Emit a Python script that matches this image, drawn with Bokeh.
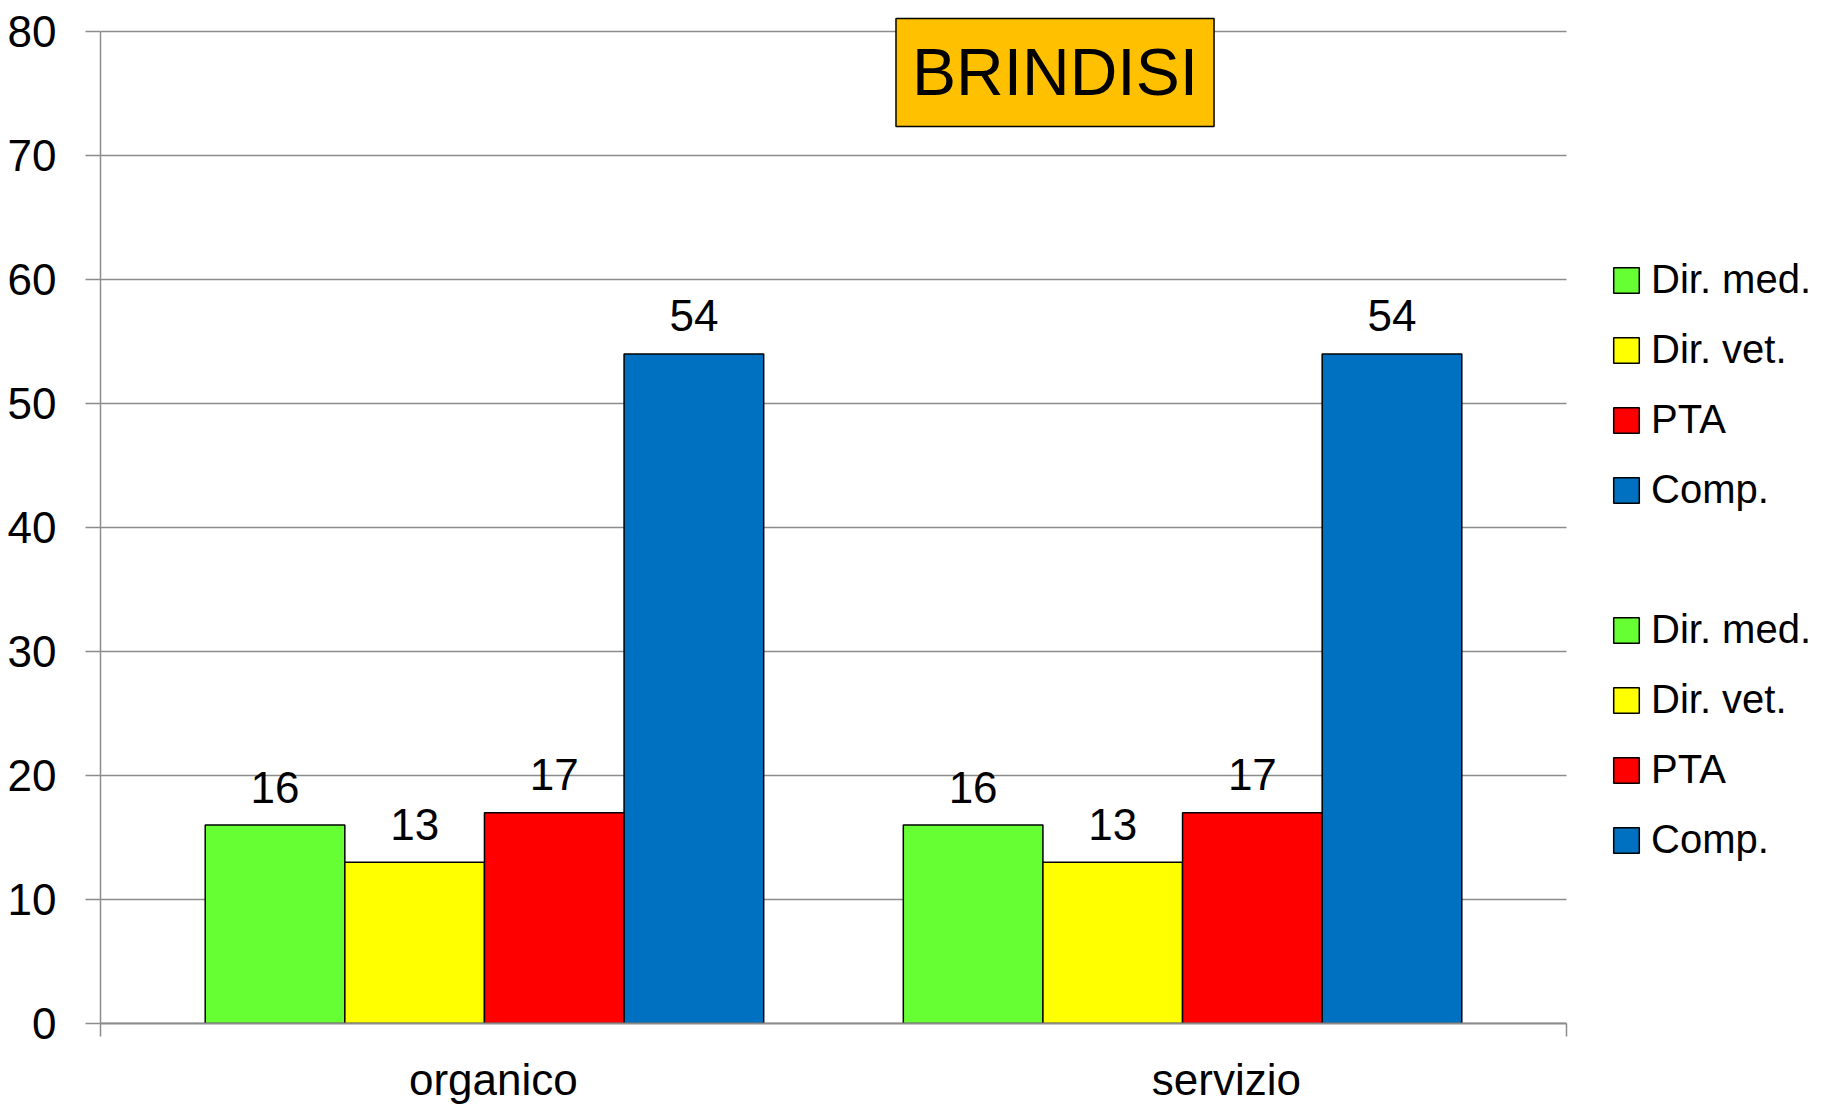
from bokeh.plotting import figure
from bokeh.models import Range1d, FixedTicker, Label, Legend, LegendItem, ColumnDataSource
from bokeh.core.properties import value
from bokeh.embed import file_html
from bokeh.resources import INLINE

# ---- data ----
categories = ["organico", "servizio"]
series = ["Dir. med.", "Dir. vet.", "PTA", "Comp."]
organico = [16, 13, 17, 54]
servizio = [16, 13, 17, 54]
colors = ["#66FF33", "#FFFF00", "#FF0000", "#0070C0"]
title_text = "BRINDISI"
y_ticks = [0, 10, 20, 30, 40, 50, 60, 70, 80]

FONT = "Liberation Sans, Arial, sans-serif"

# frame: 80 -> 992 px tall with headroom for the title box;
# x: categories occupy 0..2 (1466 px); the frame continues right to hold the legend
Y_TOP = 80 * 1009 / 992
X_END = 2 * 1722 / 1466

p = figure(width=1822, height=1106, output_backend="svg", toolbar_location=None,
           x_range=Range1d(0, X_END), y_range=Range1d(0, Y_TOP),
           min_border_left=100, min_border_right=0, min_border_top=14, min_border_bottom=83)
p.outline_line_color = None
p.background_fill_color = "white"
p.border_fill_color = "white"

GRID = "#8c8c8c"
p.xgrid.visible = False
p.ygrid.visible = False
# horizontal gridlines limited to the category area
p.segment(x0=[0] * len(y_ticks), x1=[2] * len(y_ticks), y0=y_ticks, y1=y_ticks,
          line_color=GRID, line_width=1.5)

p.yaxis.ticker = FixedTicker(ticks=y_ticks)
p.yaxis.bounds = (0, 80)
p.yaxis.axis_line_color = GRID
p.yaxis.axis_line_width = 1.5
p.yaxis.major_tick_line_color = GRID
p.yaxis.major_tick_line_width = 1.5
p.yaxis.major_tick_out = 15
p.yaxis.major_tick_in = 0
p.yaxis.minor_tick_line_color = None
p.yaxis.major_label_text_font = FONT
p.yaxis.major_label_text_font_size = "44px"
p.yaxis.major_label_text_color = "black"
p.yaxis.major_label_standoff = 29

# category labels on the bottom axis, boundary ticks at both ends
cat_pos = [g + 0.536 for g in range(len(categories))]
p.xaxis.ticker = FixedTicker(ticks=cat_pos, minor_ticks=[0, 2])
p.xaxis.bounds = (0, 2)
p.xaxis.major_label_overrides = {cat_pos[i]: categories[i] for i in range(len(categories))}
p.xaxis.axis_line_color = GRID
p.xaxis.axis_line_width = 2
p.xaxis.major_tick_line_color = None
p.xaxis.major_tick_out = 0
p.xaxis.major_tick_in = 0
p.xaxis.minor_tick_line_color = GRID
p.xaxis.minor_tick_line_width = 1.5
p.xaxis.minor_tick_out = 13
p.xaxis.minor_tick_in = 0
p.xaxis.major_label_text_font = FONT
p.xaxis.major_label_text_font_size = "44px"
p.xaxis.major_label_text_color = "black"
p.xaxis.major_label_standoff = 18

# bar geometry: 0.75 bar margin, 4 bars, 1 bar gap, 4 bars, 0.75 bar margin
w = 2 / 10.5
groups = [organico, servizio]
group_renderers = []
for g, vals in enumerate(groups):
    rs = []
    for s, v in enumerate(vals):
        xc = (0.75 + g * 5 + s + 0.5) * w
        src = ColumnDataSource(dict(x=[xc], top=[v], lab=[str(v)]))
        r = p.vbar(x="x", top="top", bottom=0, width=w, source=src,
                   fill_color=colors[s], line_color="black", line_width=1.5)
        p.text(x="x", y="top", text="lab", source=src, text_align="center",
               text_baseline="alphabetic", y_offset=-38,
               text_font=value(FONT), text_font_size="44px", text_color="black")
        rs.append(r)
    group_renderers.append(rs)

# title box
p.add_layout(Label(x=1.3022, y=76.7, text=title_text, text_align="center",
                   text_baseline="middle", text_font=FONT, text_font_size="66px",
                   text_color="black", background_fill_color="#FFC000",
                   border_line_color="black", border_line_width=1.5,
                   padding=dict(left=16, right=16, top=17, bottom=17)))

# legend: the 4 series for each category, with a blank row between the two blocks
spacer = p.vbar(x=[], top=[], width=w, fill_alpha=0, line_alpha=0)
items = [LegendItem(label=series[s], renderers=[group_renderers[0][s]]) for s in range(4)]
items.append(LegendItem(label=" ", renderers=[spacer]))
items += [LegendItem(label=series[s], renderers=[group_renderers[1][s]]) for s in range(4)]
leg = Legend(items=items, location=(1510, 161), orientation="vertical",
             glyph_width=32, glyph_height=32, label_standoff=9, spacing=25,
             label_height=45, padding=0, margin=0, border_line_color=None,
             background_fill_alpha=0,
             label_text_font=FONT, label_text_font_size="40px",
             label_text_color="black", click_policy="none")
p.add_layout(leg, "center")

open("out.html", "w").write(file_html(p, INLINE))
